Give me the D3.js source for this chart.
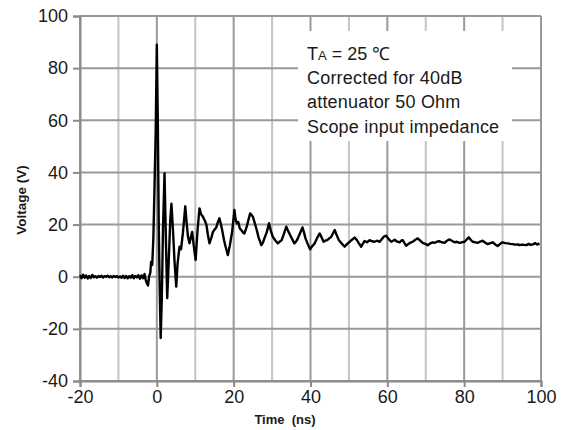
<!DOCTYPE html>
<html><head><meta charset="utf-8">
<script src="https://cdn.jsdelivr.net/npm/d3@7"></script>
<style>body{margin:0;background:#fff}svg{display:block}text{font-family:Arial,"Liberation Sans",sans-serif}</style>
</head><body><svg id="c" width="569" height="430"></svg>
<script>
const timeNs=[-20,-19.6,-19.2,-18.8,-18.4,-18.0,-17.6,-17.2,-16.8,-16.4,-16.0,-15.6,-15.2,-14.8,-14.4,-14.0,-13.6,-13.2,-12.8,-12.4,-12.0,-11.6,-11.2,-10.8,-10.4,-10.0,-9.6,-9.2,-8.8,-8.4,-8.0,-7.6,-7.2,-6.8,-6.4,-6.0,-5.6,-5.2,-4.8,-4.4,-4.0,-3.6,-3.2,-2.9,-2.6,-2.3,-2.0,-1.7,-1.5,-1.2,-0.9,-0.6,-0.3,0.0,0.25,0.5,0.75,1.0,1.3,1.6,2.0,2.35,2.7,3.1,3.5,3.8,4.2,4.6,5.05,5.4,5.9,6.3,6.8,7.4,7.8,8.1,8.5,9.2,9.6,10.1,10.6,11.1,11.5,12.0,12.5,12.9,13.3,13.7,14.2,14.6,15.0,15.5,15.9,16.3,16.7,17.0,17.5,17.9,18.5,19.0,19.6,20.2,20.5,20.8,21.2,21.6,22.0,22.4,22.8,23.4,23.8,24.3,25.0,25.4,25.9,26.5,27.2,27.6,28.0,28.6,29.2,29.7,30.2,30.8,31.5,32.0,32.5,33.1,33.7,34.1,34.5,35.2,35.8,36.3,36.7,37.3,37.9,38.3,38.7,39.3,39.9,40.5,41.1,41.7,42.4,42.9,43.4,43.8,44.3,44.8,45.4,45.8,46.3,46.8,47.4,48.1,48.9,49.5,50.2,50.8,51.5,52.0,52.6,53.2,53.6,54.1,54.7,55.4,56.0,56.7,57.3,58.0,58.6,59.2,59.7,60.3,61.0,61.5,61.9,62.5,63.2,63.6,64.0,64.5,64.9,65.5,66.2,66.8,67.4,67.9,68.6,69.2,69.9,70.5,71.2,71.8,72.4,73.0,73.6,74.2,74.9,75.5,76.2,76.8,77.5,78.1,78.8,79.4,80.1,80.6,81.2,81.7,82.2,82.9,83.5,84.2,84.8,85.5,86.1,86.8,87.4,88.1,88.7,89.4,90.0,90.7,91.4,92.0,92.6,93.3,94.0,94.4,95.0,95.6,96.2,96.8,97.3,97.9,98.5,99.0,99.6];
const voltage=[0.6,-0.6,0.8,-0.4,0.5,-0.7,0.3,-0.5,0.7,-0.2,0.2,-0.4,0.3,-0.1,0.4,-0.3,0.2,0.0,0.4,-0.2,0.2,-0.3,0.3,-0.1,0.2,-0.3,0.1,-0.4,0.4,-0.5,0.3,-0.6,0.2,-0.4,0.6,-0.6,0.3,-0.3,0.6,-0.8,0.5,-0.6,1.0,-1.2,-2.4,-3.4,0.2,1.5,5.7,4.5,15,35,55,89,60,20,-5,-23.5,-8,18,39.7,15,-8.2,6,22,28,18,6,-3.8,5,11.5,10.5,17,27,20,15.5,12.8,17.2,12,6.4,18,26.2,24,23,21.5,20,16,12.8,15,17.2,18,19,21,22.4,20,17.9,14,11.5,8.3,12,17.2,25.6,22,20.5,21,18.5,17.9,17,16.6,19.2,21.5,24.3,23,21,18.5,15,12.1,13,14.7,17,20.5,17.5,15.3,14,12.8,13.5,14,16.5,19.2,17.8,16.6,14.5,12.8,13.6,14.7,16.8,18.9,17,14.7,12.5,10.5,11.8,12.8,14.8,16.6,15,13.4,13.8,14,14.6,15.3,16.5,17.9,16,14,12.8,11.5,12.5,13.4,14.2,15,14.2,12.8,11.5,12.6,13.7,13.2,14,13.6,13.4,13.8,13.4,14.5,15.5,15.7,14.5,13.4,13.8,14.2,13.5,13.2,13.8,14,12.8,11.9,12.6,13.2,13.6,14.3,14.7,13.8,13.0,12.6,12.1,12.8,13.2,13.0,13.5,13.6,13.2,13.0,13.8,14.3,13.8,13.2,13.4,13.0,13.2,13.4,14.2,15.1,14.2,13.4,13.2,13.0,13.5,13.8,13.0,12.5,12.9,13.2,12.4,11.8,12.6,13.2,12.9,12.8,12.6,12.5,12.3,12.4,12.1,12.3,12.2,12.1,12.6,12.2,12.4,12.9,12.3,12.8];
const xTicks=[-20,0,20,40,60,80,100];
const xMinorGrid=[-10,10,30,50,70,90];
const yTicks=[-40,-20,0,20,40,60,80,100];
const noteLines=["Corrected for 40dB","attenuator 50 Ohm","Scope input impedance"];
const xTitle="Time  (ns)";
const yTitle="Voltage (V)";

const svg=d3.select("#c");
const x=d3.scaleLinear().domain([-20,100]).range([80,541]);
const y=d3.scaleLinear().domain([-40,100]).range([381,16]);

// grid
const g=svg.append("g");
g.selectAll(".vm").data(xMinorGrid).join("line").attr("x1",d=>x(d)).attr("x2",d=>x(d)).attr("y1",y(-40)).attr("y2",y(100)).attr("stroke","#c4c4c4").attr("stroke-width",2);
g.selectAll(".vM").data(xTicks).join("line").attr("x1",d=>x(d)).attr("x2",d=>x(d)).attr("y1",y(-40)).attr("y2",y(100)).attr("stroke","#999").attr("stroke-width",2);
g.selectAll(".h").data(yTicks).join("line").attr("x1",x(-20)).attr("x2",x(100)).attr("y1",d=>y(d)).attr("y2",d=>y(d)).attr("stroke","#999").attr("stroke-width",2);

// axes
const fmt=d=>String(d);
const xa=svg.append("g").attr("transform",`translate(0,${y(-40)})`).call(d3.axisBottom(x).tickValues(xTicks).tickFormat(fmt).tickSize(6).tickPadding(3));
const ya=svg.append("g").attr("transform",`translate(${x(-20)},0)`).call(d3.axisLeft(y).tickValues(yTicks).tickFormat(fmt).tickSize(7).tickPadding(5));
[xa,ya].forEach(a=>{a.select(".domain").attr("stroke","#8a8a8a").attr("stroke-width",2);a.selectAll(".tick line").attr("stroke","#8a8a8a").attr("stroke-width",2);a.selectAll("text").attr("font-size",18).attr("fill","#1a1a1a").attr("font-family","Arial, 'Liberation Sans', sans-serif");});

// trace
const data=timeNs.map((t,i)=>[t,voltage[i]]);
svg.append("path").datum(data).attr("fill","none").attr("stroke","#000").attr("stroke-width",2.4).attr("stroke-linejoin","round")
  .attr("d",d3.line().x(d=>x(d[0])).y(d=>y(d[1])));

// note box
svg.append("rect").attr("x",298).attr("y",31).attr("width",214).attr("height",110).attr("fill","#fff");
const t1=svg.append("text").attr("x",307).attr("y",60).attr("font-size",18).attr("fill","#1a1a1a");
t1.append("tspan").text("T");
t1.append("tspan").attr("font-size",13).text("A");
t1.append("tspan").text(" = 25 \u2103");
svg.selectAll(".nl").data(noteLines).join("text").attr("x",307).attr("y",(d,i)=>84+i*24.3).attr("font-size",18).attr("letter-spacing",0.2).attr("fill","#1a1a1a").text(d=>d);

// titles
svg.append("text").attr("x",285).attr("y",424).attr("text-anchor","middle").attr("font-size",13).attr("font-weight","bold").attr("fill","#1a1a1a").attr("xml:space","preserve").text(xTitle);
svg.append("text").attr("transform","translate(26,200) rotate(-90)").attr("text-anchor","middle").attr("font-size",13.5).attr("font-weight","bold").attr("fill","#1a1a1a").text(yTitle);
</script></body></html>
